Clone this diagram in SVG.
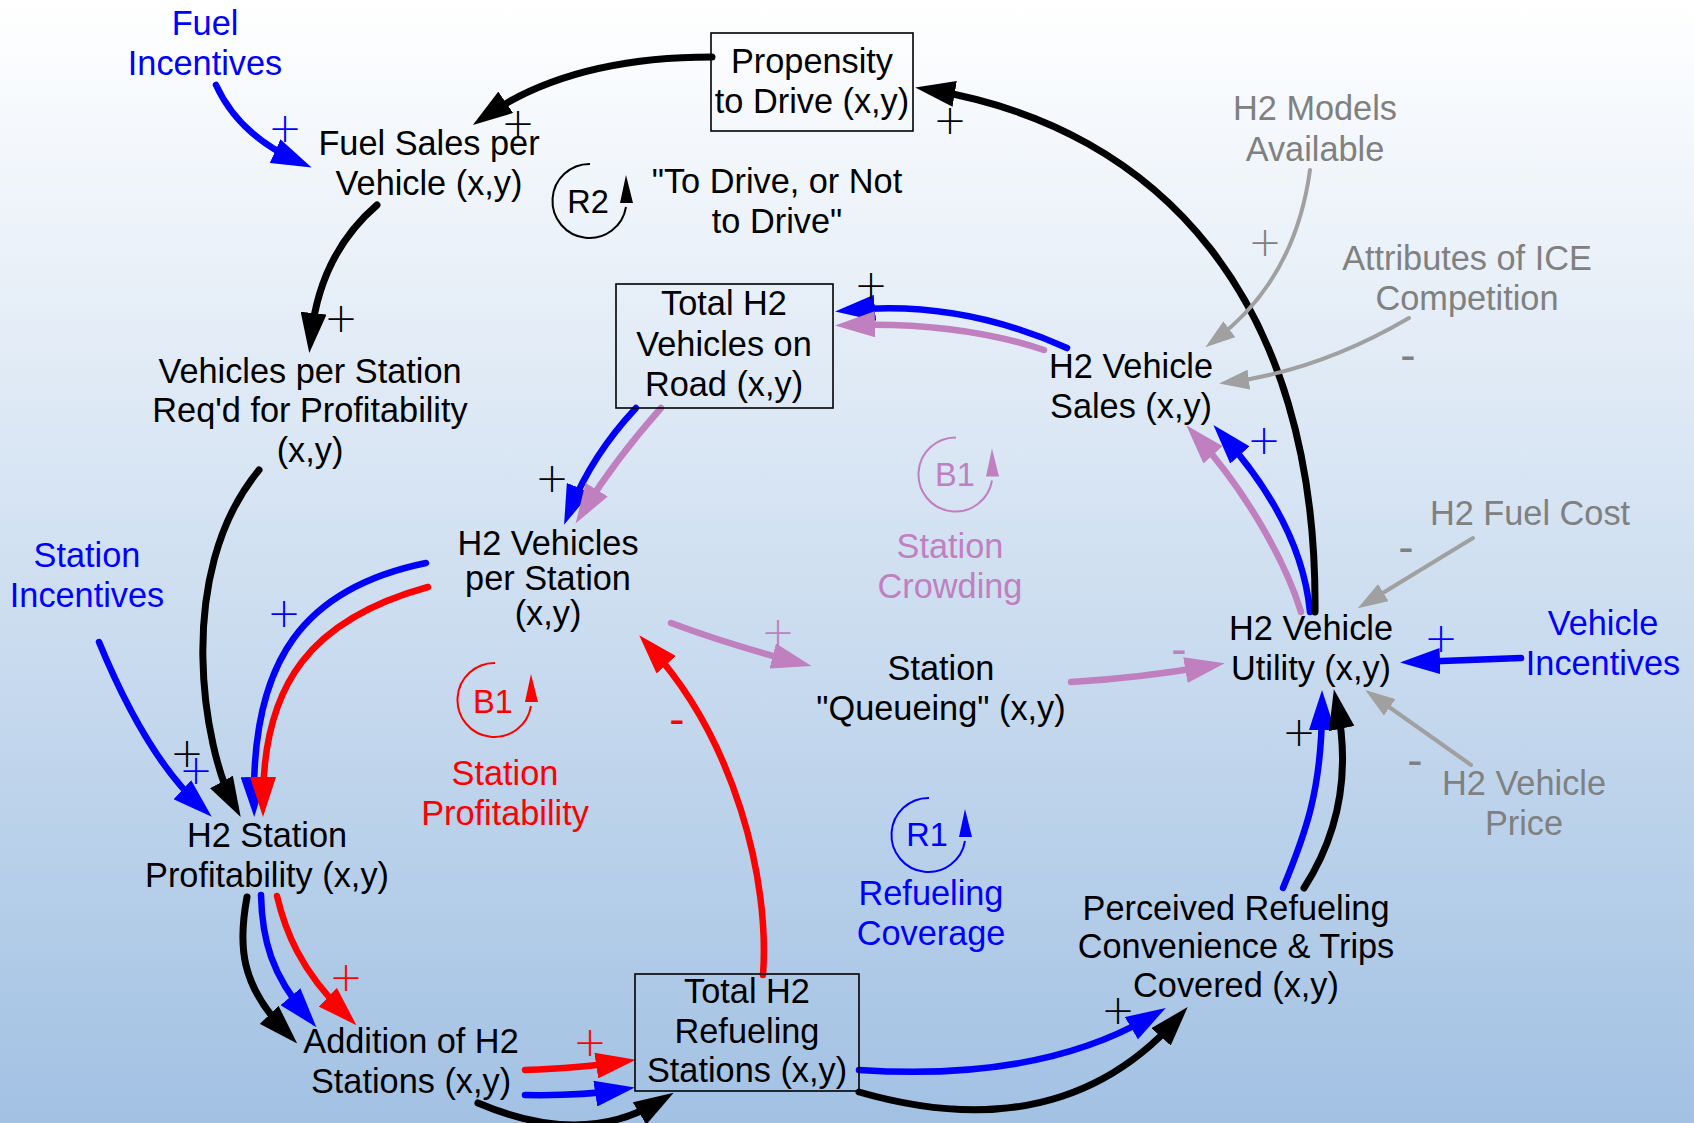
<svg xmlns="http://www.w3.org/2000/svg" width="1694" height="1123" viewBox="0 0 1694 1123">
<defs>
<linearGradient id="bg" x1="0" y1="0" x2="0" y2="1">
<stop offset="0" stop-color="#ffffff"/>
<stop offset="1" stop-color="#a2c1e3"/>
</linearGradient>
<marker id="mk-black" viewBox="0 0 40 26" refX="24" refY="13" markerWidth="40" markerHeight="26" markerUnits="userSpaceOnUse" orient="auto"><path d="M0,0 L40,13 L0,26 z" fill="#000000"/></marker>
<marker id="mk-blue" viewBox="0 0 40 26" refX="24" refY="13" markerWidth="40" markerHeight="26" markerUnits="userSpaceOnUse" orient="auto"><path d="M0,0 L40,13 L0,26 z" fill="#0000ff"/></marker>
<marker id="mk-red" viewBox="0 0 40 26" refX="24" refY="13" markerWidth="40" markerHeight="26" markerUnits="userSpaceOnUse" orient="auto"><path d="M0,0 L40,13 L0,26 z" fill="#ff0000"/></marker>
<marker id="mk-pink" viewBox="0 0 40 26" refX="24" refY="13" markerWidth="40" markerHeight="26" markerUnits="userSpaceOnUse" orient="auto"><path d="M0,0 L40,13 L0,26 z" fill="#c080c0"/></marker>
<marker id="mk-grey" viewBox="0 0 30 20" refX="18" refY="10" markerWidth="30" markerHeight="20" markerUnits="userSpaceOnUse" orient="auto"><path d="M0,0 L30,10 L0,20 z" fill="#a0a0a0"/></marker>
</defs>
<style>
text{font-family:"Liberation Sans",Arial,sans-serif;font-size:34.3px;text-anchor:middle;}
.k{fill:#000000}
.b{fill:#0000ff}
.r{fill:#ff0000}
.p{fill:#c080c0}
.g{fill:#808080}
.box{fill:none;stroke:#000000;stroke-width:1.6}
.lk{fill:none;stroke:#000000;stroke-width:7;stroke-linecap:round;marker-end:url(#mk-black)}
.lb{fill:none;stroke:#0000ff;stroke-width:6.5;stroke-linecap:round;marker-end:url(#mk-blue)}
.lr{fill:none;stroke:#ff0000;stroke-width:6.5;stroke-linecap:round;marker-end:url(#mk-red)}
.lp{fill:none;stroke:#c080c0;stroke-width:6.5;stroke-linecap:round;marker-end:url(#mk-pink)}
.lg{fill:none;stroke:#a0a0a0;stroke-width:4;stroke-linecap:round;marker-end:url(#mk-grey)}
.loop{fill:none;stroke-width:2}
.ll{font-size:32.5px}
.plus{font-family:"DejaVu Sans",sans-serif;font-weight:200;font-size:40px;dominant-baseline:central}
.minus{font-size:46px;dominant-baseline:central}
</style>
<rect x="0" y="0" width="1694" height="1123" fill="url(#bg)"/>

<g id="connectors">
<path class="lk" d="M712,57 Q571,57 486,116"/>
<path class="lb" d="M216,85 Q239,135 297,161"/>
<path class="lk" d="M377,205 Q320,254 311,337"/>
<path class="lk" d="M259,470 C172,575 205,752 233,803"/>
<path class="lb" d="M99,642 Q146,756 200,806"/>
<path class="lb" d="M426,563 C304,588 252,660 254,801"/>
<path class="lr" d="M428,587 C312,619 263,683 263,801"/>
<path class="lk" d="M247,897 C238,945 240,985 286,1032"/>
<path class="lb" d="M261,895 C262,940 272,975 306,1015"/>
<path class="lr" d="M277,896 C285,930 300,970 345,1014"/>
<path class="lr" d="M525,1070 Q580,1068 620,1062"/>
<path class="lb" d="M525,1095 Q580,1096 619,1090"/>
<path class="lk" d="M478,1103 Q583,1148 660,1101"/>
<path class="lb" d="M859,1070 Q1040,1082 1152,1016"/>
<path class="lk" d="M859,1092 Q1060,1150 1177,1019"/>
<path class="lb" d="M1283,888 C1305,835 1322,790 1322,706"/>
<path class="lk" d="M1304,888 C1335,840 1352,780 1337,705"/>
<path class="lb" d="M1310,612 C1305,560 1280,500 1224,437"/>
<path class="lp" d="M1301,612 C1285,560 1245,490 1197,437"/>
<path class="lk" d="M1315,612 C1318,300 1160,128 931,90"/>
<path class="lb" d="M1067,348 Q960,300 851,310"/>
<path class="lp" d="M1044,350 Q960,322 851,325"/>
<path class="lb" d="M636,408 Q592,455 570,510"/>
<path class="lp" d="M661,408 Q615,460 584,510"/>
<path class="lp" d="M671,623 Q730,645 796,662"/>
<path class="lp" d="M1071,682 Q1140,678 1209,666"/>
<path class="lr" d="M763,975 C770,880 735,740 650,647"/>
<path class="lg" d="M1310,170 Q1295,280 1215,340"/>
<path class="lg" d="M1409,318 Q1320,370 1231,382"/>
<path class="lg" d="M1473,538 L1368,602"/>
<path class="lg" d="M1471,765 L1375,697"/>
<path class="lb" d="M1521,658 Q1470,660 1416,662"/>
<g id="polarities">
<text class="plus k" x="518" y="123">+</text>
<text class="plus k" x="341" y="318">+</text>
<text class="plus k" x="950" y="120">+</text>
<text class="plus k" x="871" y="285">+</text>
<text class="plus k" x="552" y="478">+</text>
<text class="plus k" x="187" y="753">+</text>
<text class="plus k" x="1299" y="732">+</text>
<text class="plus k" x="1118" y="1010">+</text>
<text class="plus b" x="285" y="128">+</text>
<text class="plus b" x="1264" y="440">+</text>
<text class="plus b" x="284" y="613">+</text>
<text class="plus b" x="196" y="770">+</text>
<text class="plus b" x="1441" y="638">+</text>
<text class="plus g" x="1265" y="242">+</text>
<text class="plus p" x="778" y="632">+</text>
<text class="plus r" x="346" y="977">+</text>
<text class="plus r" x="590" y="1042">+</text>
<text class="minus g" x="1408" y="355">-</text>
<text class="minus g" x="1406" y="547">-</text>
<text class="minus g" x="1415" y="760">-</text>
<text class="minus p" x="1179" y="649">-</text>
<text class="minus r" x="677" y="719">-</text>
</g>
</g>

<g id="fuel-incentives"><text class="b" x="205" y="35">Fuel</text><text class="b" x="205" y="75">Incentives</text></g>
<g id="fuel-sales"><text class="k" x="429" y="155">Fuel Sales per</text><text class="k" x="429" y="195">Vehicle (x,y)</text></g>
<g id="propensity"><rect class="box" x="711" y="33" width="202" height="98"/><text class="k" x="812" y="73">Propensity</text><text class="k" x="812" y="113">to Drive (x,y)</text></g>
<g id="loop-r2">
<path class="loop" stroke="#000000" d="M590,164 A37,37 0 1 0 626,207"/>
<polygon points="626,175 620,203 633,203" fill="#000000"/>
<text class="k ll" x="588" y="213">R2</text>
<text class="k" x="777" y="193">"To Drive, or Not</text><text class="k" x="777" y="233">to Drive"</text>
</g>
<g id="vehicles-on-road"><rect class="box" x="616" y="284" width="217" height="124"/><text class="k" x="724" y="315">Total H2</text><text class="k" x="724" y="356">Vehicles on</text><text class="k" x="724" y="396">Road (x,y)</text></g>
<g id="h2-models"><text class="g" x="1315" y="120">H2 Models</text><text class="g" x="1315" y="161">Available</text></g>
<g id="ice-attributes"><text class="g" x="1467" y="270">Attributes of ICE</text><text class="g" x="1467" y="310">Competition</text></g>
<g id="h2-vehicle-sales"><text class="k" x="1131" y="378">H2 Vehicle</text><text class="k" x="1131" y="418">Sales (x,y)</text></g>
<g id="vehicles-per-station-reqd"><text class="k" x="310" y="383">Vehicles per Station</text><text class="k" x="310" y="422">Req'd for Profitability</text><text class="k" x="310" y="462">(x,y)</text></g>
<g id="h2-vehicles-per-station"><text class="k" x="548" y="555">H2 Vehicles</text><text class="k" x="548" y="590">per Station</text><text class="k" x="548" y="625">(x,y)</text></g>
<g id="station-incentives"><text class="b" x="87" y="567">Station</text><text class="b" x="87" y="607">Incentives</text></g>
<g id="loop-b1-crowding">
<path class="loop" stroke="#c080c0" d="M956,437.5 A37,37 0 1 0 992,480.5"/>
<polygon points="992,448.5 986,476.5 999,476.5" fill="#c080c0"/>
<text class="p ll" x="955" y="486">B1</text>
<text class="p" x="950" y="558">Station</text><text class="p" x="950" y="598">Crowding</text>
</g>
<g id="h2-fuel-cost"><text class="g" x="1530" y="525">H2 Fuel Cost</text></g>
<g id="h2-vehicle-utility"><text class="k" x="1311" y="640">H2 Vehicle</text><text class="k" x="1311" y="680">Utility (x,y)</text></g>
<g id="vehicle-incentives"><text class="b" x="1603" y="635">Vehicle</text><text class="b" x="1603" y="675">Incentives</text></g>
<g id="h2-vehicle-price"><text class="g" x="1524" y="795">H2 Vehicle</text><text class="g" x="1524" y="835">Price</text></g>
<g id="station-queueing"><text class="k" x="941" y="680">Station</text><text class="k" x="941" y="720">"Queueing" (x,y)</text></g>
<g id="loop-b1-profitability">
<path class="loop" stroke="#ff0000" d="M495,663 A37,37 0 1 0 531,706"/>
<polygon points="531,674 525,702 538,702" fill="#ff0000"/>
<text class="r ll" x="493" y="713">B1</text>
<text class="r" x="505" y="785">Station</text><text class="r" x="505" y="825">Profitability</text>
</g>
<g id="h2-station-profitability"><text class="k" x="267" y="847">H2 Station</text><text class="k" x="267" y="887">Profitability (x,y)</text></g>
<g id="loop-r1">
<path class="loop" stroke="#0000ff" d="M929,798 A37,37 0 1 0 965,841"/>
<polygon points="965,809 959,837 972,837" fill="#0000ff"/>
<text class="b ll" x="927" y="846">R1</text>
<text class="b" x="931" y="905">Refueling</text><text class="b" x="931" y="945">Coverage</text>
</g>
<g id="perceived-convenience"><text class="k" x="1236" y="920">Perceived Refueling</text><text class="k" x="1236" y="958">Convenience &amp; Trips</text><text class="k" x="1236" y="997">Covered (x,y)</text></g>
<g id="refueling-stations"><rect class="box" x="635" y="974" width="224" height="117"/><text class="k" x="747" y="1003">Total H2</text><text class="k" x="747" y="1043">Refueling</text><text class="k" x="747" y="1082">Stations (x,y)</text></g>
<g id="addition-stations"><text class="k" x="411" y="1053">Addition of H2</text><text class="k" x="411" y="1093">Stations (x,y)</text></g>
</svg>
